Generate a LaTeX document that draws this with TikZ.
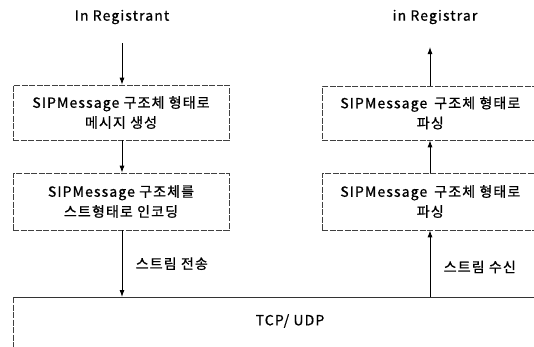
\documentclass[tikz,border=0pt]{standalone}
\usepackage{fontspec}
\setmainfont{Noto Sans CJK KR}[LetterSpace=8,FakeBold=0.8]
\usetikzlibrary{arrows.meta}
\begin{document}
\begin{tikzpicture}[x=1pt,y=-1pt,
  boxst/.style={draw=black!75, dashed, dash pattern=on 6pt off 1.5pt, line width=0.6pt, inner sep=0pt, align=center, font=\fontsize{14}{20}\selectfont},
  arr/.style={line width=0.9pt, -{Latex[length=7pt,width=5pt]}},
  lbl/.style={font=\fontsize{14}{16}\selectfont}]
\useasboundingbox (0,0) rectangle (534,346);
\node[lbl] (t1) at (122,17) {In Registrant};
\node[lbl] (t2) at (435,17) {in Registrar};
\coordinate (s1) at (122,43);
\node[boxst, minimum width=216pt, minimum height=55pt] (b1) at (121,112.5) {SIPMessage 구조체 형태로\\메시지 생성};
\node[boxst, minimum width=216pt, minimum height=57pt] (b2) at (121,201.5) {SIPMessage 구조체를\\스트형태로 인코딩};
\node[boxst, minimum width=216pt, minimum height=54pt, anchor=west] (b3) at (322,113) {SIPMessage\enspace 구조체 형태로\\파싱};
\node[boxst, minimum width=216pt, minimum height=57pt, anchor=west] (b4) at (322,201.5) {SIPMessage\enspace 구조체 형태로\\파싱};
\draw[line width=0.7pt, black!80] (13,297) -- (540,297);
\draw[line width=0.6pt, black!75, dashed, dash pattern=on 6pt off 1.5pt] (13,297) -- (13,350);
\node[lbl] (tcp) at (290,321) {TCP/ UDP};
\coordinate (tcpL) at (122,297);
\coordinate (tcpR) at (430,297);
\coordinate (e2) at (430,47);
\draw[arr] (s1) -- (b1.north -| s1);
\draw[arr] (b1.south -| s1) -- (b2.north -| s1);
\draw[arr] (b2.south -| s1) -- node[right=10pt, lbl, pos=0.5] {스트림 전송} (tcpL);
\draw[arr] (tcpR) -- node[right=10pt, lbl, pos=0.45] {스트림 수신} (b4.south -| tcpR);
\draw[arr] (b4.north -| tcpR) -- (b3.south -| tcpR);
\draw[arr] (b3.north -| tcpR) -- (e2);
\end{tikzpicture}
\end{document}
